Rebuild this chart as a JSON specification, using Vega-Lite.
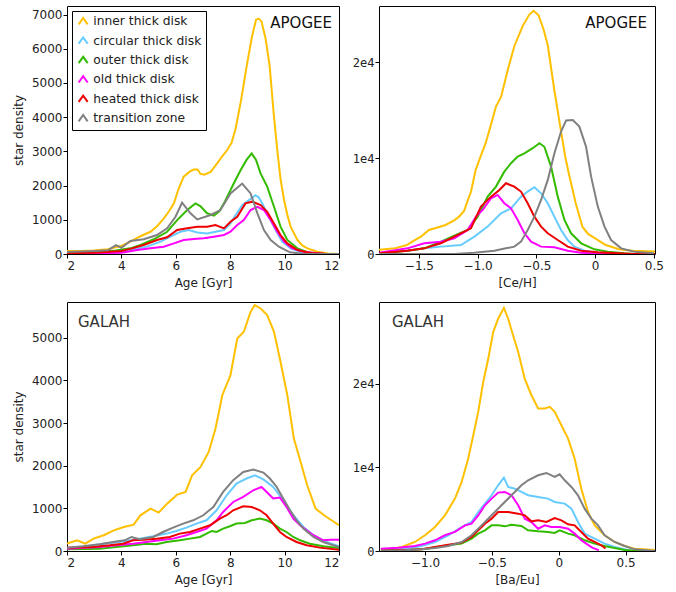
{
  "$schema": "https://vega.github.io/schema/vega-lite/v6.json",
  "padding": {"left": 11, "top": 5, "right": 5, "bottom": 5},
  "background": "white",
  "config": {
    "font": "DejaVu Sans",
    "view": {"stroke": "black", "strokeWidth": 1},
    "axis": {"grid": false, "domain": false, "tickColor": "black", "tickSize": 4, "labelOverlap": false, "labelFont": "DejaVu Sans", "labelFontSize": 12, "labelColor": "#222", "titleFont": "DejaVu Sans", "titleFontSize": 12, "titleFontWeight": "normal", "titleColor": "#222"},
    "axisX": {"labelPadding": 2, "titlePadding": 6},
    "axisY": {"labelPadding": 1, "titlePadding": 6},
    "line": {"strokeWidth": 2, "clip": true}
  },
  "datasets": {
    "ageApogee": [
      {"g":"inner thick disk","x":2.0,"y":90},{"g":"inner thick disk","x":2.5,"y":90},{"g":"inner thick disk","x":3.0,"y":100},{"g":"inner thick disk","x":3.5,"y":140},{"g":"inner thick disk","x":4.0,"y":240},{"g":"inner thick disk","x":4.33,"y":360},{"g":"inner thick disk","x":4.7,"y":520},{"g":"inner thick disk","x":5.07,"y":650},{"g":"inner thick disk","x":5.3,"y":800},{"g":"inner thick disk","x":5.56,"y":1040},{"g":"inner thick disk","x":5.75,"y":1250},{"g":"inner thick disk","x":5.93,"y":1480},{"g":"inner thick disk","x":6.1,"y":1900},{"g":"inner thick disk","x":6.29,"y":2260},{"g":"inner thick disk","x":6.5,"y":2400},{"g":"inner thick disk","x":6.66,"y":2470},{"g":"inner thick disk","x":6.8,"y":2470},{"g":"inner thick disk","x":6.91,"y":2340},{"g":"inner thick disk","x":7.05,"y":2320},{"g":"inner thick disk","x":7.28,"y":2400},{"g":"inner thick disk","x":7.52,"y":2650},{"g":"inner thick disk","x":7.7,"y":2850},{"g":"inner thick disk","x":7.89,"y":3040},{"g":"inner thick disk","x":8.05,"y":3250},{"g":"inner thick disk","x":8.2,"y":3670},{"g":"inner thick disk","x":8.4,"y":4500},{"g":"inner thick disk","x":8.6,"y":5470},{"g":"inner thick disk","x":8.8,"y":6350},{"g":"inner thick disk","x":8.95,"y":6850},{"g":"inner thick disk","x":9.05,"y":6880},{"g":"inner thick disk","x":9.15,"y":6800},{"g":"inner thick disk","x":9.3,"y":6300},{"g":"inner thick disk","x":9.45,"y":5500},{"g":"inner thick disk","x":9.6,"y":4100},{"g":"inner thick disk","x":9.73,"y":3040},{"g":"inner thick disk","x":9.85,"y":2200},{"g":"inner thick disk","x":9.98,"y":1580},{"g":"inner thick disk","x":10.1,"y":1150},{"g":"inner thick disk","x":10.22,"y":800},{"g":"inner thick disk","x":10.47,"y":410},{"g":"inner thick disk","x":10.65,"y":250},{"g":"inner thick disk","x":10.84,"y":166},{"g":"inner thick disk","x":11.2,"y":67},{"g":"inner thick disk","x":11.6,"y":15},{"g":"inner thick disk","x":12.0,"y":0},
      {"g":"circular thick disk","x":2.0,"y":10},{"g":"circular thick disk","x":3.0,"y":20},{"g":"circular thick disk","x":3.5,"y":30},{"g":"circular thick disk","x":4.0,"y":60},{"g":"circular thick disk","x":4.33,"y":115},{"g":"circular thick disk","x":4.94,"y":215},{"g":"circular thick disk","x":5.44,"y":360},{"g":"circular thick disk","x":5.8,"y":505},{"g":"circular thick disk","x":6.17,"y":650},{"g":"circular thick disk","x":6.48,"y":700},{"g":"circular thick disk","x":6.79,"y":630},{"g":"circular thick disk","x":7.15,"y":600},{"g":"circular thick disk","x":7.46,"y":650},{"g":"circular thick disk","x":7.77,"y":700},{"g":"circular thick disk","x":8.01,"y":895},{"g":"circular thick disk","x":8.2,"y":1140},{"g":"circular thick disk","x":8.44,"y":1430},{"g":"circular thick disk","x":8.69,"y":1575},{"g":"circular thick disk","x":8.93,"y":1720},{"g":"circular thick disk","x":9.05,"y":1650},{"g":"circular thick disk","x":9.18,"y":1480},{"g":"circular thick disk","x":9.42,"y":1090},{"g":"circular thick disk","x":9.67,"y":700},{"g":"circular thick disk","x":9.91,"y":360},{"g":"circular thick disk","x":10.22,"y":165},{"g":"circular thick disk","x":10.6,"y":50},{"g":"circular thick disk","x":11.0,"y":10},{"g":"circular thick disk","x":12.0,"y":0},
      {"g":"outer thick disk","x":2.0,"y":20},{"g":"outer thick disk","x":3.0,"y":50},{"g":"outer thick disk","x":3.8,"y":100},{"g":"outer thick disk","x":4.33,"y":165},{"g":"outer thick disk","x":4.7,"y":263},{"g":"outer thick disk","x":5.19,"y":430},{"g":"outer thick disk","x":5.68,"y":650},{"g":"outer thick disk","x":6.05,"y":990},{"g":"outer thick disk","x":6.42,"y":1285},{"g":"outer thick disk","x":6.72,"y":1480},{"g":"outer thick disk","x":6.9,"y":1400},{"g":"outer thick disk","x":7.15,"y":1190},{"g":"outer thick disk","x":7.4,"y":1120},{"g":"outer thick disk","x":7.6,"y":1250},{"g":"outer thick disk","x":7.77,"y":1480},{"g":"outer thick disk","x":8.13,"y":2060},{"g":"outer thick disk","x":8.38,"y":2450},{"g":"outer thick disk","x":8.6,"y":2750},{"g":"outer thick disk","x":8.79,"y":2940},{"g":"outer thick disk","x":8.95,"y":2750},{"g":"outer thick disk","x":9.12,"y":2350},{"g":"outer thick disk","x":9.36,"y":1970},{"g":"outer thick disk","x":9.61,"y":1380},{"g":"outer thick disk","x":9.85,"y":800},{"g":"outer thick disk","x":10.1,"y":410},{"g":"outer thick disk","x":10.47,"y":165},{"g":"outer thick disk","x":10.84,"y":50},{"g":"outer thick disk","x":11.3,"y":10},{"g":"outer thick disk","x":12.0,"y":0},
      {"g":"old thick disk","x":2.0,"y":10},{"g":"old thick disk","x":3.0,"y":15},{"g":"old thick disk","x":4.0,"y":40},{"g":"old thick disk","x":4.33,"y":80},{"g":"old thick disk","x":4.58,"y":115},{"g":"old thick disk","x":5.07,"y":165},{"g":"old thick disk","x":5.56,"y":215},{"g":"old thick disk","x":5.93,"y":310},{"g":"old thick disk","x":6.29,"y":410},{"g":"old thick disk","x":6.66,"y":440},{"g":"old thick disk","x":7.03,"y":460},{"g":"old thick disk","x":7.4,"y":505},{"g":"old thick disk","x":7.77,"y":555},{"g":"old thick disk","x":8.01,"y":650},{"g":"old thick disk","x":8.26,"y":847},{"g":"old thick disk","x":8.5,"y":990},{"g":"old thick disk","x":8.75,"y":1285},{"g":"old thick disk","x":9.0,"y":1380},{"g":"old thick disk","x":9.24,"y":1285},{"g":"old thick disk","x":9.49,"y":990},{"g":"old thick disk","x":9.73,"y":650},{"g":"old thick disk","x":9.98,"y":360},{"g":"old thick disk","x":10.28,"y":165},{"g":"old thick disk","x":10.7,"y":65},{"g":"old thick disk","x":11.2,"y":20},{"g":"old thick disk","x":11.4,"y":5},{"g":"old thick disk","x":12.0,"y":0},
      {"g":"heated thick disk","x":2.0,"y":20},{"g":"heated thick disk","x":3.0,"y":40},{"g":"heated thick disk","x":4.0,"y":90},{"g":"heated thick disk","x":4.33,"y":150},{"g":"heated thick disk","x":4.82,"y":263},{"g":"heated thick disk","x":5.31,"y":410},{"g":"heated thick disk","x":5.68,"y":490},{"g":"heated thick disk","x":6.05,"y":700},{"g":"heated thick disk","x":6.42,"y":750},{"g":"heated thick disk","x":6.79,"y":797},{"g":"heated thick disk","x":7.15,"y":797},{"g":"heated thick disk","x":7.46,"y":847},{"g":"heated thick disk","x":7.77,"y":750},{"g":"heated thick disk","x":8.01,"y":943},{"g":"heated thick disk","x":8.26,"y":1090},{"g":"heated thick disk","x":8.56,"y":1480},{"g":"heated thick disk","x":8.81,"y":1530},{"g":"heated thick disk","x":9.12,"y":1430},{"g":"heated thick disk","x":9.36,"y":1235},{"g":"heated thick disk","x":9.61,"y":895},{"g":"heated thick disk","x":9.85,"y":555},{"g":"heated thick disk","x":10.1,"y":310},{"g":"heated thick disk","x":10.47,"y":115},{"g":"heated thick disk","x":10.96,"y":30},{"g":"heated thick disk","x":11.5,"y":5},{"g":"heated thick disk","x":12.0,"y":0},
      {"g":"transition zone","x":2.0,"y":60},{"g":"transition zone","x":3.0,"y":90},{"g":"transition zone","x":3.5,"y":110},{"g":"transition zone","x":3.8,"y":260},{"g":"transition zone","x":4.0,"y":180},{"g":"transition zone","x":4.33,"y":380},{"g":"transition zone","x":4.82,"y":430},{"g":"transition zone","x":5.31,"y":555},{"g":"transition zone","x":5.68,"y":750},{"g":"transition zone","x":5.99,"y":1090},{"g":"transition zone","x":6.23,"y":1500},{"g":"transition zone","x":6.54,"y":1190},{"g":"transition zone","x":6.79,"y":1010},{"g":"transition zone","x":7.28,"y":1140},{"g":"transition zone","x":7.64,"y":1285},{"g":"transition zone","x":8.01,"y":1770},{"g":"transition zone","x":8.44,"y":2060},{"g":"transition zone","x":8.75,"y":1770},{"g":"transition zone","x":9.0,"y":1190},{"g":"transition zone","x":9.24,"y":700},{"g":"transition zone","x":9.49,"y":410},{"g":"transition zone","x":9.79,"y":213},{"g":"transition zone","x":10.2,"y":50},{"g":"transition zone","x":10.7,"y":0},{"g":"transition zone","x":12.0,"y":0}
    ],
    "ceApogee": [
      {"g":"inner thick disk","x":-1.84,"y":450},{"g":"inner thick disk","x":-1.7,"y":600},{"g":"inner thick disk","x":-1.6,"y":950},{"g":"inner thick disk","x":-1.557,"y":1290},{"g":"inner thick disk","x":-1.483,"y":1810},{"g":"inner thick disk","x":-1.415,"y":2510},{"g":"inner thick disk","x":-1.35,"y":2750},{"g":"inner thick disk","x":-1.273,"y":3030},{"g":"inner thick disk","x":-1.2,"y":3500},{"g":"inner thick disk","x":-1.159,"y":3900},{"g":"inner thick disk","x":-1.115,"y":4500},{"g":"inner thick disk","x":-1.088,"y":5470},{"g":"inner thick disk","x":-1.057,"y":6500},{"g":"inner thick disk","x":-1.017,"y":8780},{"g":"inner thick disk","x":-0.975,"y":10200},{"g":"inner thick disk","x":-0.932,"y":11570},{"g":"inner thick disk","x":-0.88,"y":13800},{"g":"inner thick disk","x":-0.844,"y":15400},{"g":"inner thick disk","x":-0.801,"y":16400},{"g":"inner thick disk","x":-0.744,"y":19200},{"g":"inner thick disk","x":-0.688,"y":21700},{"g":"inner thick disk","x":-0.617,"y":23800},{"g":"inner thick disk","x":-0.56,"y":25000},{"g":"inner thick disk","x":-0.523,"y":25400},{"g":"inner thick disk","x":-0.48,"y":24900},{"g":"inner thick disk","x":-0.44,"y":23500},{"g":"inner thick disk","x":-0.403,"y":21800},{"g":"inner thick disk","x":-0.347,"y":17100},{"g":"inner thick disk","x":-0.292,"y":12960},{"g":"inner thick disk","x":-0.255,"y":10200},{"g":"inner thick disk","x":-0.222,"y":8300},{"g":"inner thick disk","x":-0.165,"y":5300},{"g":"inner thick disk","x":-0.108,"y":2850},{"g":"inner thick disk","x":-0.06,"y":2100},{"g":"inner thick disk","x":-0.023,"y":1810},{"g":"inner thick disk","x":0.091,"y":940},{"g":"inner thick disk","x":0.205,"y":490},{"g":"inner thick disk","x":0.318,"y":350},{"g":"inner thick disk","x":0.51,"y":250},
      {"g":"circular thick disk","x":-1.84,"y":70},{"g":"circular thick disk","x":-1.6,"y":350},{"g":"circular thick disk","x":-1.455,"y":590},{"g":"circular thick disk","x":-1.313,"y":770},{"g":"circular thick disk","x":-1.142,"y":940},{"g":"circular thick disk","x":-1.028,"y":1810},{"g":"circular thick disk","x":-0.915,"y":2860},{"g":"circular thick disk","x":-0.801,"y":4250},{"g":"circular thick disk","x":-0.716,"y":4770},{"g":"circular thick disk","x":-0.631,"y":5990},{"g":"circular thick disk","x":-0.574,"y":6520},{"g":"circular thick disk","x":-0.517,"y":6970},{"g":"circular thick disk","x":-0.46,"y":6340},{"g":"circular thick disk","x":-0.403,"y":5300},{"g":"circular thick disk","x":-0.347,"y":3900},{"g":"circular thick disk","x":-0.29,"y":2510},{"g":"circular thick disk","x":-0.233,"y":1460},{"g":"circular thick disk","x":-0.176,"y":770},{"g":"circular thick disk","x":-0.091,"y":350},{"g":"circular thick disk","x":0.023,"y":140},{"g":"circular thick disk","x":0.165,"y":35},{"g":"circular thick disk","x":0.3,"y":0},{"g":"circular thick disk","x":0.51,"y":0},
      {"g":"outer thick disk","x":-1.84,"y":70},{"g":"outer thick disk","x":-1.6,"y":350},{"g":"outer thick disk","x":-1.455,"y":590},{"g":"outer thick disk","x":-1.313,"y":1290},{"g":"outer thick disk","x":-1.185,"y":1990},{"g":"outer thick disk","x":-1.085,"y":2510},{"g":"outer thick disk","x":-1.0,"y":3900},{"g":"outer thick disk","x":-0.915,"y":5990},{"g":"outer thick disk","x":-0.844,"y":7040},{"g":"outer thick disk","x":-0.773,"y":8600},{"g":"outer thick disk","x":-0.716,"y":9480},{"g":"outer thick disk","x":-0.659,"y":10170},{"g":"outer thick disk","x":-0.602,"y":10500},{"g":"outer thick disk","x":-0.531,"y":11050},{"g":"outer thick disk","x":-0.474,"y":11570},{"g":"outer thick disk","x":-0.432,"y":11200},{"g":"outer thick disk","x":-0.375,"y":9130},{"g":"outer thick disk","x":-0.318,"y":5990},{"g":"outer thick disk","x":-0.261,"y":3550},{"g":"outer thick disk","x":-0.205,"y":2160},{"g":"outer thick disk","x":-0.119,"y":1115},{"g":"outer thick disk","x":-0.006,"y":490},{"g":"outer thick disk","x":0.108,"y":245},{"g":"outer thick disk","x":0.25,"y":70},{"g":"outer thick disk","x":0.33,"y":0},{"g":"outer thick disk","x":0.51,"y":0},
      {"g":"old thick disk","x":-1.84,"y":140},{"g":"old thick disk","x":-1.597,"y":590},{"g":"old thick disk","x":-1.455,"y":1115},{"g":"old thick disk","x":-1.313,"y":1290},{"g":"old thick disk","x":-1.199,"y":1640},{"g":"old thick disk","x":-1.085,"y":2510},{"g":"old thick disk","x":-1.014,"y":3900},{"g":"old thick disk","x":-0.957,"y":4600},{"g":"old thick disk","x":-0.886,"y":5820},{"g":"old thick disk","x":-0.83,"y":6170},{"g":"old thick disk","x":-0.773,"y":5300},{"g":"old thick disk","x":-0.716,"y":4770},{"g":"old thick disk","x":-0.659,"y":3550},{"g":"old thick disk","x":-0.602,"y":2160},{"g":"old thick disk","x":-0.545,"y":1290},{"g":"old thick disk","x":-0.46,"y":770},{"g":"old thick disk","x":-0.347,"y":700},{"g":"old thick disk","x":-0.233,"y":350},{"g":"old thick disk","x":-0.119,"y":140},{"g":"old thick disk","x":0.023,"y":35},{"g":"old thick disk","x":0.2,"y":0},{"g":"old thick disk","x":0.51,"y":0},
      {"g":"heated thick disk","x":-1.84,"y":70},{"g":"heated thick disk","x":-1.597,"y":350},{"g":"heated thick disk","x":-1.455,"y":590},{"g":"heated thick disk","x":-1.313,"y":1115},{"g":"heated thick disk","x":-1.17,"y":1990},{"g":"heated thick disk","x":-1.057,"y":2680},{"g":"heated thick disk","x":-0.972,"y":4950},{"g":"heated thick disk","x":-0.886,"y":5990},{"g":"heated thick disk","x":-0.815,"y":6690},{"g":"heated thick disk","x":-0.759,"y":7390},{"g":"heated thick disk","x":-0.688,"y":7040},{"g":"heated thick disk","x":-0.631,"y":6520},{"g":"heated thick disk","x":-0.574,"y":5300},{"g":"heated thick disk","x":-0.517,"y":3900},{"g":"heated thick disk","x":-0.46,"y":2860},{"g":"heated thick disk","x":-0.403,"y":2160},{"g":"heated thick disk","x":-0.318,"y":1460},{"g":"heated thick disk","x":-0.233,"y":770},{"g":"heated thick disk","x":-0.119,"y":350},{"g":"heated thick disk","x":0.023,"y":175},{"g":"heated thick disk","x":0.193,"y":70},{"g":"heated thick disk","x":0.33,"y":0},{"g":"heated thick disk","x":0.51,"y":0},
      {"g":"transition zone","x":-1.84,"y":0},{"g":"transition zone","x":-1.2,"y":0},{"g":"transition zone","x":-1.028,"y":140},{"g":"transition zone","x":-0.858,"y":350},{"g":"transition zone","x":-0.759,"y":590},{"g":"transition zone","x":-0.688,"y":770},{"g":"transition zone","x":-0.631,"y":1290},{"g":"transition zone","x":-0.574,"y":2510},{"g":"transition zone","x":-0.517,"y":3900},{"g":"transition zone","x":-0.46,"y":5640},{"g":"transition zone","x":-0.403,"y":7740},{"g":"transition zone","x":-0.347,"y":10500},{"g":"transition zone","x":-0.29,"y":12790},{"g":"transition zone","x":-0.247,"y":13940},{"g":"transition zone","x":-0.19,"y":14000},{"g":"transition zone","x":-0.134,"y":13300},{"g":"transition zone","x":-0.077,"y":11200},{"g":"transition zone","x":-0.034,"y":8080},{"g":"transition zone","x":0.023,"y":4950},{"g":"transition zone","x":0.08,"y":2860},{"g":"transition zone","x":0.136,"y":1460},{"g":"transition zone","x":0.222,"y":590},{"g":"transition zone","x":0.335,"y":245},{"g":"transition zone","x":0.5,"y":70}
    ],
    "ageGalah": [
      {"g":"inner thick disk","x":2.0,"y":172},{"g":"inner thick disk","x":2.37,"y":250},{"g":"inner thick disk","x":2.67,"y":172},{"g":"inner thick disk","x":2.98,"y":290},{"g":"inner thick disk","x":3.35,"y":370},{"g":"inner thick disk","x":3.72,"y":485},{"g":"inner thick disk","x":4.09,"y":563},{"g":"inner thick disk","x":4.45,"y":618},{"g":"inner thick disk","x":4.7,"y":837},{"g":"inner thick disk","x":5.07,"y":994},{"g":"inner thick disk","x":5.37,"y":900},{"g":"inner thick disk","x":5.68,"y":1111},{"g":"inner thick disk","x":6.05,"y":1322},{"g":"inner thick disk","x":6.36,"y":1385},{"g":"inner thick disk","x":6.6,"y":1776},{"g":"inner thick disk","x":6.91,"y":1972},{"g":"inner thick disk","x":7.21,"y":2324},{"g":"inner thick disk","x":7.46,"y":2872},{"g":"inner thick disk","x":7.71,"y":3654},{"g":"inner thick disk","x":8.01,"y":4124},{"g":"inner thick disk","x":8.26,"y":4984},{"g":"inner thick disk","x":8.5,"y":5141},{"g":"inner thick disk","x":8.75,"y":5610},{"g":"inner thick disk","x":8.9,"y":5767},{"g":"inner thick disk","x":9.12,"y":5689},{"g":"inner thick disk","x":9.36,"y":5532},{"g":"inner thick disk","x":9.61,"y":5141},{"g":"inner thick disk","x":9.85,"y":4437},{"g":"inner thick disk","x":10.1,"y":3654},{"g":"inner thick disk","x":10.34,"y":2637},{"g":"inner thick disk","x":10.59,"y":2089},{"g":"inner thick disk","x":10.83,"y":1541},{"g":"inner thick disk","x":11.14,"y":994},{"g":"inner thick disk","x":11.45,"y":837},{"g":"inner thick disk","x":11.82,"y":681},{"g":"inner thick disk","x":12.0,"y":603},
      {"g":"circular thick disk","x":2.0,"y":55},{"g":"circular thick disk","x":2.58,"y":95},{"g":"circular thick disk","x":3.2,"y":157},{"g":"circular thick disk","x":3.69,"y":196},{"g":"circular thick disk","x":4.18,"y":235},{"g":"circular thick disk","x":4.67,"y":290},{"g":"circular thick disk","x":5.17,"y":345},{"g":"circular thick disk","x":5.66,"y":408},{"g":"circular thick disk","x":6.02,"y":470},{"g":"circular thick disk","x":6.39,"y":549},{"g":"circular thick disk","x":6.76,"y":643},{"g":"circular thick disk","x":7.13,"y":720},{"g":"circular thick disk","x":7.5,"y":955},{"g":"circular thick disk","x":7.87,"y":1307},{"g":"circular thick disk","x":8.23,"y":1582},{"g":"circular thick disk","x":8.6,"y":1700},{"g":"circular thick disk","x":8.91,"y":1777},{"g":"circular thick disk","x":9.22,"y":1680},{"g":"circular thick disk","x":9.58,"y":1502},{"g":"circular thick disk","x":9.95,"y":1190},{"g":"circular thick disk","x":10.32,"y":838},{"g":"circular thick disk","x":10.69,"y":565},{"g":"circular thick disk","x":11.06,"y":370},{"g":"circular thick disk","x":11.42,"y":250},{"g":"circular thick disk","x":11.79,"y":157},{"g":"circular thick disk","x":12.0,"y":110},
      {"g":"outer thick disk","x":2.0,"y":40},{"g":"outer thick disk","x":3.2,"y":55},{"g":"outer thick disk","x":3.81,"y":95},{"g":"outer thick disk","x":4.43,"y":134},{"g":"outer thick disk","x":4.92,"y":172},{"g":"outer thick disk","x":5.29,"y":157},{"g":"outer thick disk","x":5.66,"y":211},{"g":"outer thick disk","x":6.15,"y":251},{"g":"outer thick disk","x":6.52,"y":290},{"g":"outer thick disk","x":6.89,"y":329},{"g":"outer thick disk","x":7.13,"y":408},{"g":"outer thick disk","x":7.32,"y":470},{"g":"outer thick disk","x":7.5,"y":446},{"g":"outer thick disk","x":7.74,"y":526},{"g":"outer thick disk","x":7.99,"y":580},{"g":"outer thick disk","x":8.23,"y":643},{"g":"outer thick disk","x":8.54,"y":659},{"g":"outer thick disk","x":8.79,"y":720},{"g":"outer thick disk","x":9.09,"y":760},{"g":"outer thick disk","x":9.34,"y":720},{"g":"outer thick disk","x":9.58,"y":643},{"g":"outer thick disk","x":9.83,"y":526},{"g":"outer thick disk","x":10.07,"y":446},{"g":"outer thick disk","x":10.32,"y":329},{"g":"outer thick disk","x":10.57,"y":251},{"g":"outer thick disk","x":10.93,"y":172},{"g":"outer thick disk","x":11.42,"y":110},{"g":"outer thick disk","x":12.0,"y":70},
      {"g":"old thick disk","x":2.0,"y":55},{"g":"old thick disk","x":3.2,"y":95},{"g":"old thick disk","x":3.81,"y":134},{"g":"old thick disk","x":4.43,"y":172},{"g":"old thick disk","x":4.92,"y":211},{"g":"old thick disk","x":5.41,"y":251},{"g":"old thick disk","x":5.9,"y":290},{"g":"old thick disk","x":6.39,"y":368},{"g":"old thick disk","x":6.76,"y":446},{"g":"old thick disk","x":7.13,"y":526},{"g":"old thick disk","x":7.5,"y":720},{"g":"old thick disk","x":7.74,"y":916},{"g":"old thick disk","x":8.11,"y":1150},{"g":"old thick disk","x":8.48,"y":1268},{"g":"old thick disk","x":8.85,"y":1424},{"g":"old thick disk","x":9.15,"y":1502},{"g":"old thick disk","x":9.34,"y":1385},{"g":"old thick disk","x":9.58,"y":1230},{"g":"old thick disk","x":9.83,"y":1253},{"g":"old thick disk","x":10.07,"y":1033},{"g":"old thick disk","x":10.32,"y":759},{"g":"old thick disk","x":10.57,"y":604},{"g":"old thick disk","x":10.81,"y":486},{"g":"old thick disk","x":11.06,"y":370},{"g":"old thick disk","x":11.42,"y":251},{"g":"old thick disk","x":11.67,"y":266},{"g":"old thick disk","x":12.0,"y":266},
      {"g":"heated thick disk","x":2.0,"y":79},{"g":"heated thick disk","x":2.95,"y":95},{"g":"heated thick disk","x":3.57,"y":134},{"g":"heated thick disk","x":4.06,"y":172},{"g":"heated thick disk","x":4.43,"y":251},{"g":"heated thick disk","x":4.8,"y":266},{"g":"heated thick disk","x":5.29,"y":290},{"g":"heated thick disk","x":5.78,"y":329},{"g":"heated thick disk","x":6.15,"y":408},{"g":"heated thick disk","x":6.52,"y":446},{"g":"heated thick disk","x":6.89,"y":526},{"g":"heated thick disk","x":7.26,"y":604},{"g":"heated thick disk","x":7.62,"y":760},{"g":"heated thick disk","x":7.87,"y":838},{"g":"heated thick disk","x":8.11,"y":955},{"g":"heated thick disk","x":8.48,"y":1049},{"g":"heated thick disk","x":8.79,"y":1033},{"g":"heated thick disk","x":9.09,"y":955},{"g":"heated thick disk","x":9.34,"y":838},{"g":"heated thick disk","x":9.58,"y":643},{"g":"heated thick disk","x":9.83,"y":446},{"g":"heated thick disk","x":10.07,"y":329},{"g":"heated thick disk","x":10.44,"y":211},{"g":"heated thick disk","x":10.81,"y":134},{"g":"heated thick disk","x":11.3,"y":79},{"g":"heated thick disk","x":12.0,"y":30},
      {"g":"transition zone","x":2.0,"y":79},{"g":"transition zone","x":2.58,"y":110},{"g":"transition zone","x":3.2,"y":157},{"g":"transition zone","x":3.69,"y":211},{"g":"transition zone","x":4.12,"y":251},{"g":"transition zone","x":4.37,"y":329},{"g":"transition zone","x":4.67,"y":275},{"g":"transition zone","x":5.17,"y":329},{"g":"transition zone","x":5.53,"y":446},{"g":"transition zone","x":5.9,"y":549},{"g":"transition zone","x":6.27,"y":643},{"g":"transition zone","x":6.64,"y":720},{"g":"transition zone","x":7.01,"y":838},{"g":"transition zone","x":7.38,"y":1033},{"g":"transition zone","x":7.74,"y":1385},{"g":"transition zone","x":8.11,"y":1660},{"g":"transition zone","x":8.48,"y":1855},{"g":"transition zone","x":8.85,"y":1910},{"g":"transition zone","x":9.22,"y":1840},{"g":"transition zone","x":9.46,"y":1700},{"g":"transition zone","x":9.71,"y":1502},{"g":"transition zone","x":9.95,"y":1230},{"g":"transition zone","x":10.2,"y":955},{"g":"transition zone","x":10.44,"y":720},{"g":"transition zone","x":10.69,"y":526},{"g":"transition zone","x":11.06,"y":329},{"g":"transition zone","x":11.42,"y":211},{"g":"transition zone","x":11.79,"y":134},{"g":"transition zone","x":12.0,"y":95}
    ],
    "baGalah": [
      {"g":"inner thick disk","x":-1.33,"y":200},{"g":"inner thick disk","x":-1.249,"y":280},{"g":"inner thick disk","x":-1.174,"y":480},{"g":"inner thick disk","x":-1.075,"y":1080},{"g":"inner thick disk","x":-1.0,"y":1880},{"g":"inner thick disk","x":-0.925,"y":2870},{"g":"inner thick disk","x":-0.851,"y":4270},{"g":"inner thick disk","x":-0.776,"y":6270},{"g":"inner thick disk","x":-0.726,"y":8260},{"g":"inner thick disk","x":-0.677,"y":11060},{"g":"inner thick disk","x":-0.639,"y":13850},{"g":"inner thick disk","x":-0.602,"y":16650},{"g":"inner thick disk","x":-0.565,"y":20200},{"g":"inner thick disk","x":-0.527,"y":23000},{"g":"inner thick disk","x":-0.49,"y":26200},{"g":"inner thick disk","x":-0.453,"y":27800},{"g":"inner thick disk","x":-0.41,"y":29100},{"g":"inner thick disk","x":-0.378,"y":27800},{"g":"inner thick disk","x":-0.341,"y":25800},{"g":"inner thick disk","x":-0.303,"y":23800},{"g":"inner thick disk","x":-0.254,"y":20600},{"g":"inner thick disk","x":-0.204,"y":18640},{"g":"inner thick disk","x":-0.154,"y":17050},{"g":"inner thick disk","x":-0.104,"y":17050},{"g":"inner thick disk","x":-0.067,"y":17250},{"g":"inner thick disk","x":-0.03,"y":16650},{"g":"inner thick disk","x":0.02,"y":15050},{"g":"inner thick disk","x":0.07,"y":13450},{"g":"inner thick disk","x":0.119,"y":11060},{"g":"inner thick disk","x":0.169,"y":7460},{"g":"inner thick disk","x":0.219,"y":4670},{"g":"inner thick disk","x":0.269,"y":3070},{"g":"inner thick disk","x":0.343,"y":1880},{"g":"inner thick disk","x":0.418,"y":1080},{"g":"inner thick disk","x":0.493,"y":600},{"g":"inner thick disk","x":0.567,"y":280},{"g":"inner thick disk","x":0.72,"y":120},
      {"g":"circular thick disk","x":-1.33,"y":80},{"g":"circular thick disk","x":-1.2,"y":200},{"g":"circular thick disk","x":-1.1,"y":350},{"g":"circular thick disk","x":-1.025,"y":600},{"g":"circular thick disk","x":-0.925,"y":1080},{"g":"circular thick disk","x":-0.826,"y":1880},{"g":"circular thick disk","x":-0.726,"y":2870},{"g":"circular thick disk","x":-0.652,"y":3470},{"g":"circular thick disk","x":-0.602,"y":4670},{"g":"circular thick disk","x":-0.552,"y":5670},{"g":"circular thick disk","x":-0.502,"y":6670},{"g":"circular thick disk","x":-0.453,"y":7860},{"g":"circular thick disk","x":-0.41,"y":8780},{"g":"circular thick disk","x":-0.378,"y":7660},{"g":"circular thick disk","x":-0.328,"y":7460},{"g":"circular thick disk","x":-0.279,"y":7070},{"g":"circular thick disk","x":-0.229,"y":6670},{"g":"circular thick disk","x":-0.154,"y":6470},{"g":"circular thick disk","x":-0.08,"y":6270},{"g":"circular thick disk","x":-0.03,"y":5870},{"g":"circular thick disk","x":0.045,"y":5670},{"g":"circular thick disk","x":0.095,"y":5070},{"g":"circular thick disk","x":0.144,"y":3470},{"g":"circular thick disk","x":0.194,"y":2080},{"g":"circular thick disk","x":0.269,"y":1480},{"g":"circular thick disk","x":0.343,"y":880},{"g":"circular thick disk","x":0.418,"y":480},{"g":"circular thick disk","x":0.493,"y":200},{"g":"circular thick disk","x":0.55,"y":0},{"g":"circular thick disk","x":0.72,"y":0},
      {"g":"outer thick disk","x":-1.33,"y":40},{"g":"outer thick disk","x":-1.1,"y":150},{"g":"outer thick disk","x":-1.0,"y":250},{"g":"outer thick disk","x":-0.925,"y":440},{"g":"outer thick disk","x":-0.826,"y":680},{"g":"outer thick disk","x":-0.726,"y":880},{"g":"outer thick disk","x":-0.652,"y":1480},{"g":"outer thick disk","x":-0.602,"y":2080},{"g":"outer thick disk","x":-0.552,"y":2480},{"g":"outer thick disk","x":-0.502,"y":3070},{"g":"outer thick disk","x":-0.453,"y":3070},{"g":"outer thick disk","x":-0.4,"y":2950},{"g":"outer thick disk","x":-0.353,"y":3150},{"g":"outer thick disk","x":-0.279,"y":2990},{"g":"outer thick disk","x":-0.229,"y":2480},{"g":"outer thick disk","x":-0.154,"y":2360},{"g":"outer thick disk","x":-0.08,"y":2280},{"g":"outer thick disk","x":-0.03,"y":2160},{"g":"outer thick disk","x":0.007,"y":2480},{"g":"outer thick disk","x":0.07,"y":2080},{"g":"outer thick disk","x":0.119,"y":1880},{"g":"outer thick disk","x":0.194,"y":1280},{"g":"outer thick disk","x":0.269,"y":880},{"g":"outer thick disk","x":0.343,"y":600},{"g":"outer thick disk","x":0.418,"y":360},{"g":"outer thick disk","x":0.493,"y":120},{"g":"outer thick disk","x":0.567,"y":40},{"g":"outer thick disk","x":0.72,"y":0},
      {"g":"old thick disk","x":-1.33,"y":280},{"g":"old thick disk","x":-1.199,"y":400},{"g":"old thick disk","x":-1.075,"y":600},{"g":"old thick disk","x":-1.0,"y":880},{"g":"old thick disk","x":-0.925,"y":1280},{"g":"old thick disk","x":-0.851,"y":1880},{"g":"old thick disk","x":-0.776,"y":2280},{"g":"old thick disk","x":-0.701,"y":3070},{"g":"old thick disk","x":-0.652,"y":3270},{"g":"old thick disk","x":-0.602,"y":4270},{"g":"old thick disk","x":-0.552,"y":5470},{"g":"old thick disk","x":-0.502,"y":6270},{"g":"old thick disk","x":-0.453,"y":6990},{"g":"old thick disk","x":-0.403,"y":7070},{"g":"old thick disk","x":-0.353,"y":6670},{"g":"old thick disk","x":-0.303,"y":5470},{"g":"old thick disk","x":-0.254,"y":3870},{"g":"old thick disk","x":-0.204,"y":3470},{"g":"old thick disk","x":-0.154,"y":2670},{"g":"old thick disk","x":-0.104,"y":3070},{"g":"old thick disk","x":-0.055,"y":2870},{"g":"old thick disk","x":0.007,"y":2870},{"g":"old thick disk","x":0.07,"y":2670},{"g":"old thick disk","x":0.119,"y":2080},{"g":"old thick disk","x":0.169,"y":1280},{"g":"old thick disk","x":0.206,"y":880},{"g":"old thick disk","x":0.25,"y":400},{"g":"old thick disk","x":0.3,"y":100},
      {"g":"heated thick disk","x":-1.33,"y":40},{"g":"heated thick disk","x":-1.1,"y":150},{"g":"heated thick disk","x":-1.025,"y":200},{"g":"heated thick disk","x":-0.925,"y":480},{"g":"heated thick disk","x":-0.826,"y":760},{"g":"heated thick disk","x":-0.726,"y":1000},{"g":"heated thick disk","x":-0.652,"y":1680},{"g":"heated thick disk","x":-0.602,"y":2480},{"g":"heated thick disk","x":-0.552,"y":3270},{"g":"heated thick disk","x":-0.502,"y":3870},{"g":"heated thick disk","x":-0.453,"y":4670},{"g":"heated thick disk","x":-0.378,"y":4670},{"g":"heated thick disk","x":-0.303,"y":4470},{"g":"heated thick disk","x":-0.254,"y":4270},{"g":"heated thick disk","x":-0.204,"y":3550},{"g":"heated thick disk","x":-0.154,"y":3670},{"g":"heated thick disk","x":-0.092,"y":3470},{"g":"heated thick disk","x":-0.03,"y":3950},{"g":"heated thick disk","x":0.02,"y":3670},{"g":"heated thick disk","x":0.07,"y":3190},{"g":"heated thick disk","x":0.119,"y":3070},{"g":"heated thick disk","x":0.169,"y":2280},{"g":"heated thick disk","x":0.219,"y":1480},{"g":"heated thick disk","x":0.269,"y":1080},{"g":"heated thick disk","x":0.318,"y":680},{"g":"heated thick disk","x":0.35,"y":300},
      {"g":"transition zone","x":-1.33,"y":0},{"g":"transition zone","x":-1.15,"y":80},{"g":"transition zone","x":-1.025,"y":200},{"g":"transition zone","x":-0.925,"y":360},{"g":"transition zone","x":-0.826,"y":600},{"g":"transition zone","x":-0.726,"y":1080},{"g":"transition zone","x":-0.652,"y":1880},{"g":"transition zone","x":-0.577,"y":3070},{"g":"transition zone","x":-0.502,"y":4270},{"g":"transition zone","x":-0.428,"y":5470},{"g":"transition zone","x":-0.353,"y":6670},{"g":"transition zone","x":-0.279,"y":7860},{"g":"transition zone","x":-0.229,"y":8460},{"g":"transition zone","x":-0.154,"y":9060},{"g":"transition zone","x":-0.092,"y":9340},{"g":"transition zone","x":-0.03,"y":8860},{"g":"transition zone","x":0.007,"y":9180},{"g":"transition zone","x":0.045,"y":8460},{"g":"transition zone","x":0.095,"y":7660},{"g":"transition zone","x":0.144,"y":6670},{"g":"transition zone","x":0.194,"y":5070},{"g":"transition zone","x":0.244,"y":3870},{"g":"transition zone","x":0.294,"y":3070},{"g":"transition zone","x":0.343,"y":1880},{"g":"transition zone","x":0.418,"y":1080},{"g":"transition zone","x":0.493,"y":600},{"g":"transition zone","x":0.567,"y":200},{"g":"transition zone","x":0.72,"y":0}
    ]
  },
  "concat": [
    {
      "width": 272, "height": 248,
      "layer": [
        {
          "data": {"name": "ageApogee"},
          "mark": {"type": "line", "strokeWidth": 2, "clip": true},
          "encoding": {
            "x": {"field": "x", "type": "quantitative", "scale": {"domain": [2, 12], "nice": false, "zero": false}, "axis": {"values": [2, 4, 6, 8, 10, 12], "title": "Age [Gyr]"}},
            "y": {"field": "y", "type": "quantitative", "scale": {"domain": [0, 7250], "nice": false}, "axis": {"values": [0, 1000, 2000, 3000, 4000, 5000, 6000, 7000], "format": "d", "title": "star density"}},
            "color": {"field": "g", "type": "nominal",
              "scale": {"domain": ["inner thick disk", "circular thick disk", "outer thick disk", "old thick disk", "heated thick disk", "transition zone"], "range": ["#ffc000", "#66ccff", "#33bb00", "#ff00ff", "#ee0000", "#808080"]},
              "legend": {"orient": "top-left", "offset": 5, "padding": 4, "strokeColor": "black", "fillColor": "white", "cornerRadius": 0, "title": null, "symbolType": "M-1,0.7L0,-0.7L1,0.7", "symbolSize": 81, "symbolStrokeWidth": 2, "symbolOffset": 1, "labelOffset": 4, "labelFontSize": 12.3, "labelFont": "DejaVu Sans", "labelColor": "#222", "rowPadding": 4.4, "labelLimit": 300}}
          }
        },
        {
          "data": {"values": [{"label": "APOGEE"}]},
          "mark": {"type": "text", "align": "right", "baseline": "alphabetic", "dx": -7, "dy": 22, "fontSize": 15, "font": "DejaVu Sans", "color": "#111"},
          "encoding": {
            "x": {"datum": 12, "type": "quantitative", "axis": {"values": [2, 4, 6, 8, 10, 12], "title": "Age [Gyr]"}},
            "y": {"datum": 7250, "type": "quantitative", "axis": {"values": [0, 1000, 2000, 3000, 4000, 5000, 6000, 7000], "format": "d", "title": "star density"}},
            "text": {"field": "label"}
          }
        }
      ]
    },
    {
      "width": 276, "height": 248,
      "layer": [
        {
          "data": {"name": "ceApogee"},
          "mark": {"type": "line", "strokeWidth": 2, "clip": true},
          "encoding": {
            "x": {"field": "x", "type": "quantitative", "scale": {"domain": [-1.84, 0.51], "nice": false, "zero": false}, "axis": {"values": [-1.5, -1.0, -0.5, 0, 0.5], "labelExpr": "datum.value == 0 ? '0' : format(datum.value, '.1f')", "title": "[Ce/H]"}},
            "y": {"field": "y", "type": "quantitative", "scale": {"domain": [0, 25900], "nice": false}, "axis": {"values": [0, 10000, 20000], "labelExpr": "datum.value == 0 ? '0' : (datum.value / 10000) + 'e4'", "labelFont": "DejaVu Sans Mono", "title": null}},
            "color": {"field": "g", "type": "nominal",
              "scale": {"domain": ["inner thick disk", "circular thick disk", "outer thick disk", "old thick disk", "heated thick disk", "transition zone"], "range": ["#ffc000", "#66ccff", "#33bb00", "#ff00ff", "#ee0000", "#808080"]},
              "legend": null}
          }
        },
        {
          "data": {"values": [{"label": "APOGEE"}]},
          "mark": {"type": "text", "align": "right", "baseline": "alphabetic", "dx": -8, "dy": 22, "fontSize": 15, "font": "DejaVu Sans", "color": "#111"},
          "encoding": {
            "x": {"datum": 0.51, "type": "quantitative", "axis": {"values": [-1.5, -1.0, -0.5, 0, 0.5], "labelExpr": "datum.value == 0 ? '0' : format(datum.value, '.1f')", "title": "[Ce/H]"}},
            "y": {"datum": 25900, "type": "quantitative", "axis": {"values": [0, 10000, 20000], "labelExpr": "datum.value == 0 ? '0' : (datum.value / 10000) + 'e4'", "labelFont": "DejaVu Sans Mono", "title": null}},
            "text": {"field": "label"}
          }
        }
      ]
    },
    {
      "width": 272, "height": 249,
      "layer": [
        {
          "data": {"name": "ageGalah"},
          "mark": {"type": "line", "strokeWidth": 2, "clip": true},
          "encoding": {
            "x": {"field": "x", "type": "quantitative", "scale": {"domain": [2, 12], "nice": false, "zero": false}, "axis": {"values": [2, 4, 6, 8, 10, 12], "title": "Age [Gyr]"}},
            "y": {"field": "y", "type": "quantitative", "scale": {"domain": [0, 5840], "nice": false}, "axis": {"values": [0, 1000, 2000, 3000, 4000, 5000], "format": "d", "title": "star density"}},
            "color": {"field": "g", "type": "nominal",
              "scale": {"domain": ["inner thick disk", "circular thick disk", "outer thick disk", "old thick disk", "heated thick disk", "transition zone"], "range": ["#ffc000", "#66ccff", "#33bb00", "#ff00ff", "#ee0000", "#808080"]},
              "legend": null}
          }
        },
        {
          "data": {"values": [{"label": "GALAH"}]},
          "mark": {"type": "text", "align": "left", "baseline": "alphabetic", "dx": 11, "dy": 25, "fontSize": 15, "font": "DejaVu Sans", "color": "#333"},
          "encoding": {
            "x": {"datum": 2, "type": "quantitative", "axis": {"values": [2, 4, 6, 8, 10, 12], "title": "Age [Gyr]"}},
            "y": {"datum": 5840, "type": "quantitative", "axis": {"values": [0, 1000, 2000, 3000, 4000, 5000], "format": "d", "title": "star density"}},
            "text": {"field": "label"}
          }
        }
      ]
    },
    {
      "width": 276, "height": 249,
      "layer": [
        {
          "data": {"name": "baGalah"},
          "mark": {"type": "line", "strokeWidth": 2, "clip": true},
          "encoding": {
            "x": {"field": "x", "type": "quantitative", "scale": {"domain": [-1.344, 0.72], "nice": false, "zero": false}, "axis": {"values": [-1.0, -0.5, 0, 0.5], "labelExpr": "datum.value == 0 ? '0' : format(datum.value, '.1f')", "title": "[Ba/Eu]"}},
            "y": {"field": "y", "type": "quantitative", "scale": {"domain": [0, 29800], "nice": false}, "axis": {"values": [0, 10000, 20000], "labelExpr": "datum.value == 0 ? '0' : (datum.value / 10000) + 'e4'", "labelFont": "DejaVu Sans Mono", "title": null}},
            "color": {"field": "g", "type": "nominal",
              "scale": {"domain": ["inner thick disk", "circular thick disk", "outer thick disk", "old thick disk", "heated thick disk", "transition zone"], "range": ["#ffc000", "#66ccff", "#33bb00", "#ff00ff", "#ee0000", "#808080"]},
              "legend": null}
          }
        },
        {
          "data": {"values": [{"label": "GALAH"}]},
          "mark": {"type": "text", "align": "left", "baseline": "alphabetic", "dx": 13, "dy": 25, "fontSize": 15, "font": "DejaVu Sans", "color": "#333"},
          "encoding": {
            "x": {"datum": -1.344, "type": "quantitative", "axis": {"values": [-1.0, -0.5, 0, 0.5], "labelExpr": "datum.value == 0 ? '0' : format(datum.value, '.1f')", "title": "[Ba/Eu]"}},
            "y": {"datum": 29800, "type": "quantitative", "axis": {"values": [0, 10000, 20000], "labelExpr": "datum.value == 0 ? '0' : (datum.value / 10000) + 'e4'", "labelFont": "DejaVu Sans Mono", "title": null}},
            "text": {"field": "label"}
          }
        }
      ]
    }
  ],
  "columns": 2,
  "spacing": {"row": 48, "column": 40},
  "bounds": "flush",
  "resolve": {"scale": {"color": "independent"}, "legend": {"color": "independent"}}
}
